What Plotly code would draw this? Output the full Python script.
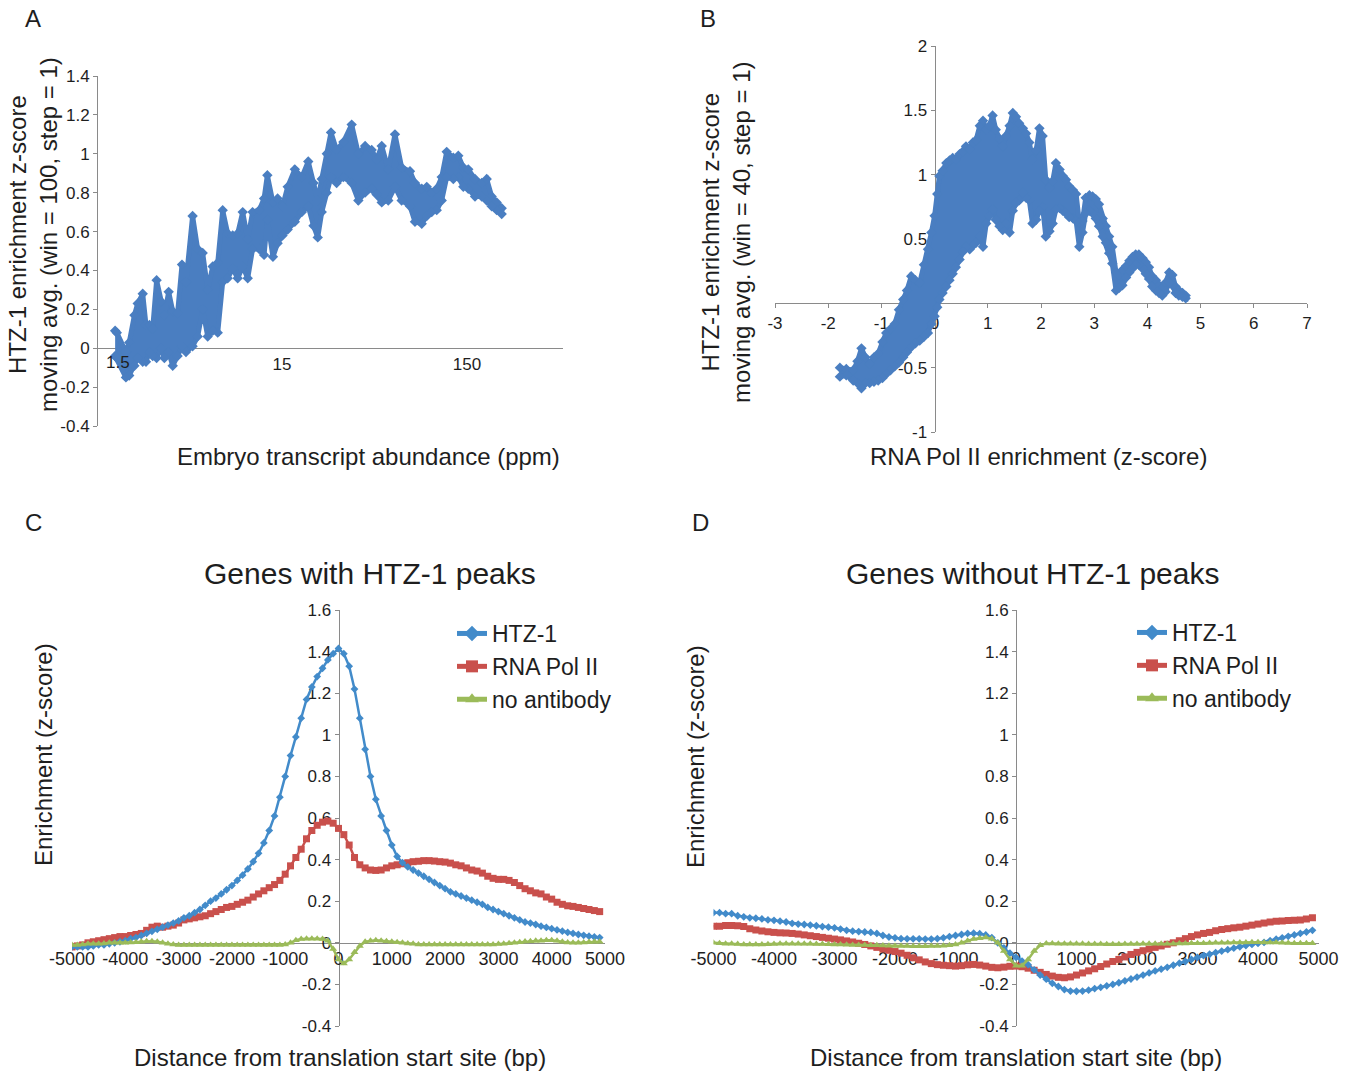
import math
import plotly.graph_objects as go

# ---------------- data ----------------
# Panel A: HTZ-1 z-score moving average vs embryo transcript abundance (ppm), band upper/lower envelope
A_PPM = [1.88, 1.92, 2.15, 2.24, 2.39, 2.49, 2.65, 2.76, 2.88, 3.00,
         3.15, 3.33, 3.47, 3.66, 3.85, 4.09, 4.32, 4.54, 4.93, 5.25,
         5.59, 5.95, 6.33, 6.74, 7.17, 7.63, 8.12, 8.64, 9.20, 9.79,
         10.4, 11.3, 12.0, 12.5, 13.4, 14.2, 15.1, 16.1, 17.6, 19.2,
         20.8, 22.2, 23.4, 24.6, 26.2, 27.6, 29.6, 32.2, 35.7, 38.8,
         42.2, 45.8, 48.7, 51.9, 56.3, 61.2, 66.5, 73.8, 78.5, 85.4,
         90.9, 96.7, 102.9, 109.5, 116.5, 126.5, 134.6, 143.3, 152.4, 165.7,
         180.2, 191.7, 204.0, 217.1, 231.0]
A_HI = [0.09, 0.08, -0.02, 0.03, 0.17, 0.23, 0.28, 0.12, 0.12, 0.10,
        0.35, 0.24, 0.17, 0.29, 0.19, 0.18, 0.43, 0.34, 0.68, 0.51,
        0.49, 0.30, 0.42, 0.44, 0.71, 0.59, 0.58, 0.59, 0.70, 0.56,
        0.70, 0.71, 0.77, 0.89, 0.75, 0.77, 0.73, 0.83, 0.92, 0.88,
        0.96, 0.85, 0.76, 0.87, 1.00, 1.11, 1.02, 1.06, 1.15, 1.00,
        1.04, 1.02, 0.97, 1.04, 0.92, 1.10, 0.93, 0.91, 0.85, 0.82,
        0.83, 0.80, 0.82, 0.88, 1.01, 0.98, 0.99, 0.93, 0.92, 0.87,
        0.85, 0.87, 0.78, 0.75, 0.72]
A_LO = [-0.04, -0.05, -0.15, -0.14, -0.09, -0.05, -0.07, -0.07, -0.02, -0.04,
        -0.05, 0.00, -0.05, -0.02, -0.09, -0.04, 0.01, -0.02, 0.01, 0.06,
        0.20, 0.06, 0.09, 0.08, 0.34, 0.36, 0.41, 0.36, 0.42, 0.36,
        0.51, 0.51, 0.48, 0.66, 0.47, 0.54, 0.58, 0.61, 0.65, 0.70,
        0.73, 0.63, 0.57, 0.70, 0.80, 0.88, 0.85, 0.88, 0.85, 0.76,
        0.80, 0.82, 0.79, 0.75, 0.76, 0.83, 0.76, 0.73, 0.65, 0.64,
        0.68, 0.70, 0.71, 0.76, 0.88, 0.87, 0.88, 0.83, 0.82, 0.78,
        0.78, 0.76, 0.73, 0.71, 0.69]

# Panel B: HTZ-1 z-score moving average vs RNA Pol II enrichment, band upper/lower envelope
B_POL2 = [-1.78, -1.66, -1.53, -1.45, -1.375, -1.30, -1.22, -1.14, -1.06, -0.98,
          -0.91, -0.83, -0.75, -0.67, -0.59, -0.52, -0.44, -0.36, -0.28, -0.20,
          -0.125, -0.06, 0.0, 0.05, 0.09, 0.15, 0.22, 0.28, 0.34, 0.40,
          0.47, 0.53, 0.59, 0.66, 0.72, 0.78, 0.85, 0.91, 0.97, 1.03,
          1.09, 1.15, 1.22, 1.28, 1.34, 1.41, 1.47, 1.53, 1.59, 1.66,
          1.72, 1.78, 1.84, 1.91, 1.97, 2.03, 2.09, 2.16, 2.22, 2.28,
          2.35, 2.41, 2.47, 2.53, 2.60, 2.66, 2.72, 2.78, 2.84, 2.91,
          2.97, 3.03, 3.09, 3.16, 3.22, 3.28, 3.34, 3.41, 3.47, 3.53,
          3.60, 3.66, 3.72, 3.78, 3.84, 3.91, 3.97, 4.03, 4.09, 4.16,
          4.22, 4.28, 4.34, 4.41, 4.47, 4.53, 4.59, 4.66, 4.72]
B_HI = [-0.50, -0.51, -0.52, -0.45, -0.35, -0.42, -0.47, -0.42, -0.39, -0.30,
        -0.23, -0.20, -0.16, -0.05, 0.03, 0.10, 0.21, 0.18, 0.16, 0.30,
        0.42, 0.55, 0.68, 0.85, 0.99, 1.03, 1.09, 1.11, 1.13, 1.12,
        1.16, 1.18, 1.22, 1.20, 1.25, 1.27, 1.38, 1.42, 1.35, 1.38,
        1.46, 1.35, 1.28, 1.22, 1.30, 1.38, 1.48, 1.45, 1.40, 1.36,
        1.32, 1.25, 1.12, 1.19, 1.36, 1.30, 0.96, 0.90, 0.95, 1.09,
        1.04, 0.99, 0.96, 0.91, 0.88, 0.85, 0.63, 0.64, 0.82, 0.84,
        0.83, 0.81, 0.77, 0.66, 0.60, 0.52, 0.44, 0.24, 0.22, 0.26,
        0.29, 0.33, 0.36, 0.38, 0.38, 0.35, 0.32, 0.28, 0.21, 0.18,
        0.14, 0.12, 0.16, 0.24, 0.22, 0.13, 0.10, 0.08, 0.06]
B_LO = [-0.57, -0.56, -0.60, -0.62, -0.66, -0.62, -0.62, -0.61, -0.60, -0.58,
        -0.55, -0.52, -0.49, -0.46, -0.42, -0.38, -0.34, -0.31, -0.29, -0.26,
        -0.23, -0.16, -0.10, -0.03, 0.03, 0.08, 0.13, 0.18, 0.23, 0.28,
        0.34, 0.40, 0.44, 0.42, 0.45, 0.47, 0.52, 0.44, 0.62, 0.68,
        0.73, 0.65, 0.60, 0.57, 0.62, 0.55, 0.72, 0.78, 0.80, 0.86,
        0.82, 0.80, 0.62, 0.65, 0.72, 0.75, 0.52, 0.56, 0.62, 0.73,
        0.74, 0.72, 0.70, 0.67, 0.66, 0.64, 0.44, 0.55, 0.70, 0.72,
        0.70, 0.66, 0.60, 0.52, 0.47, 0.39, 0.31, 0.10, 0.12, 0.14,
        0.20, 0.24, 0.27, 0.30, 0.30, 0.27, 0.23, 0.19, 0.13, 0.10,
        0.08, 0.06, 0.09, 0.16, 0.14, 0.08, 0.06, 0.05, 0.04]

# Panels C and D: distance from translation start site (bp)
DIST_BP = list(range(-5000, 5000, 100))

C_HTZ1 = [-0.02, -0.02, -0.02, -0.02, -0.015, -0.01, -0.01, -0.005, 0.0, 0.005,
          0.01, 0.02, 0.025, 0.035, 0.045, 0.055, 0.065, 0.075, 0.085, 0.095,
          0.105, 0.12, 0.13, 0.145, 0.16, 0.18, 0.20, 0.215, 0.235, 0.255,
          0.275, 0.30, 0.325, 0.355, 0.39, 0.43, 0.48, 0.54, 0.61, 0.70,
          0.80, 0.90, 0.99, 1.08, 1.17, 1.23, 1.28, 1.32, 1.36, 1.39,
          1.415, 1.39, 1.33, 1.22, 1.08, 0.93, 0.80, 0.69, 0.61, 0.54,
          0.47, 0.415, 0.385, 0.365, 0.35, 0.335, 0.32, 0.305, 0.29, 0.275,
          0.26, 0.245, 0.235, 0.225, 0.215, 0.205, 0.195, 0.185, 0.17, 0.16,
          0.15, 0.14, 0.13, 0.12, 0.11, 0.10, 0.095, 0.088, 0.08, 0.074,
          0.068, 0.062, 0.056, 0.05, 0.045, 0.04, 0.036, 0.032, 0.028, 0.025]
C_POL2 = [-0.02, -0.015, -0.01, 0.0, 0.005, 0.01, 0.015, 0.02, 0.025, 0.03,
          0.03, 0.035, 0.04, 0.045, 0.06, 0.075, 0.08, 0.075, 0.08, 0.085,
          0.095, 0.11, 0.115, 0.12, 0.125, 0.13, 0.14, 0.15, 0.16, 0.17,
          0.175, 0.185, 0.195, 0.205, 0.22, 0.235, 0.25, 0.265, 0.28, 0.30,
          0.33, 0.37, 0.41, 0.45, 0.50, 0.54, 0.565, 0.58, 0.585, 0.575,
          0.55, 0.52, 0.47, 0.41, 0.375, 0.36, 0.35, 0.348, 0.35, 0.36,
          0.37, 0.375, 0.38, 0.385, 0.39, 0.392, 0.395, 0.395, 0.393, 0.39,
          0.388, 0.383, 0.375, 0.37, 0.36, 0.35, 0.345, 0.335, 0.32, 0.31,
          0.305, 0.305, 0.30, 0.29, 0.275, 0.26, 0.25, 0.24, 0.235, 0.22,
          0.21, 0.195, 0.185, 0.178, 0.175, 0.17, 0.165, 0.16, 0.155, 0.15]
C_NOAB = [-0.01, -0.01, -0.008, -0.005, -0.005, -0.005, -0.003, 0.0, 0.0, 0.0,
          0.0, 0.002, 0.003, 0.005, 0.008, 0.008, 0.005, 0.0, -0.005, -0.008,
          -0.01, -0.01, -0.01, -0.01, -0.01, -0.01, -0.01, -0.01, -0.01, -0.01,
          -0.01, -0.01, -0.01, -0.01, -0.01, -0.01, -0.01, -0.01, -0.01, -0.01,
          -0.008, 0.0, 0.012, 0.018, 0.02, 0.02, 0.02, 0.018, 0.01, -0.03,
          -0.08, -0.10, -0.08, -0.045, -0.015, 0.005, 0.01, 0.012, 0.01, 0.008,
          0.005, 0.003, 0.0, -0.003, -0.005, -0.008, -0.008, -0.008, -0.008, -0.008,
          -0.008, -0.008, -0.008, -0.008, -0.008, -0.008, -0.008, -0.008, -0.008, -0.008,
          -0.006, -0.004, -0.002, 0.0, 0.003, 0.006, 0.008, 0.01, 0.01, 0.012,
          0.012, 0.01, 0.005, 0.002, 0.0, 0.0, 0.002, 0.004, 0.005, 0.005]

D_HTZ1 = [0.145, 0.145, 0.14, 0.14, 0.13, 0.125, 0.12, 0.118, 0.115, 0.11,
          0.108, 0.104, 0.10, 0.093, 0.09, 0.088, 0.085, 0.082, 0.078, 0.075,
          0.072, 0.066, 0.06, 0.056, 0.054, 0.052, 0.05, 0.045, 0.035, 0.028,
          0.024, 0.02, 0.019, 0.019, 0.019, 0.018, 0.018, 0.02, 0.024, 0.03,
          0.035, 0.04, 0.045, 0.046, 0.044, 0.038, 0.025, 0.0, -0.025, -0.05,
          -0.07, -0.088, -0.105, -0.13, -0.155, -0.175, -0.195, -0.21, -0.225, -0.232,
          -0.233, -0.232, -0.228, -0.22, -0.214, -0.207, -0.2, -0.192, -0.183, -0.174,
          -0.165, -0.155, -0.145, -0.135, -0.127, -0.118, -0.108, -0.098, -0.09, -0.08,
          -0.07, -0.062, -0.055, -0.047, -0.04, -0.033, -0.026, -0.019, -0.013, -0.008,
          -0.003, 0.002, 0.01, 0.017, 0.024, 0.031, 0.038, 0.045, 0.052, 0.06]
D_POL2 = [0.08, 0.08, 0.083, 0.083, 0.082, 0.078, 0.068, 0.062, 0.057, 0.053,
          0.05, 0.048, 0.047, 0.045, 0.042, 0.038, 0.034, 0.03, 0.026, 0.022,
          0.018, 0.014, 0.009, 0.004, -0.002, -0.008, -0.015, -0.022, -0.03, -0.036,
          -0.042, -0.05, -0.06, -0.072, -0.082, -0.092, -0.1, -0.105, -0.108, -0.11,
          -0.112, -0.11, -0.106, -0.104, -0.107, -0.112, -0.118, -0.12, -0.117, -0.113,
          -0.112, -0.115, -0.122, -0.132, -0.142, -0.152, -0.16, -0.166, -0.168, -0.164,
          -0.155, -0.145, -0.135, -0.125, -0.114, -0.102, -0.09, -0.08, -0.068, -0.056,
          -0.046, -0.038, -0.03, -0.022, -0.015, -0.007, 0.0, 0.01, 0.02, 0.03,
          0.038, 0.045, 0.05, 0.058, 0.064, 0.068, 0.072, 0.075, 0.08, 0.085,
          0.09, 0.095, 0.1, 0.104, 0.105, 0.107, 0.108, 0.11, 0.115, 0.12]
D_NOAB = [0.0, -0.002, -0.004, -0.005, -0.006, -0.008, -0.008, -0.008, -0.008, -0.007,
          -0.006, -0.005, -0.004, -0.004, -0.004, -0.005, -0.005, -0.006, -0.006, -0.007,
          -0.008, -0.008, -0.009, -0.01, -0.01, -0.011, -0.012, -0.012, -0.013, -0.014,
          -0.015, -0.015, -0.015, -0.016, -0.016, -0.016, -0.015, -0.015, -0.014, -0.012,
          -0.008, 0.0, 0.01, 0.018, 0.022, 0.025, 0.02, 0.0, -0.04, -0.08,
          -0.11, -0.11, -0.08, -0.04, -0.012, -0.003, -0.003, -0.004, -0.005, -0.005,
          -0.005, -0.005, -0.006, -0.006, -0.006, -0.007, -0.007, -0.007, -0.006, -0.006,
          -0.006, -0.005, -0.005, -0.005, -0.004, -0.004, -0.004, -0.003, -0.003, -0.002,
          -0.002, -0.002, -0.001, 0.0, 0.0, 0.0, 0.001, 0.002, 0.002, 0.003,
          0.003, 0.002, 0.002, 0.001, 0.0, -0.001, -0.002, -0.002, -0.002, -0.002]

SERIES_NAMES = ["HTZ-1", "RNA Pol II", "no antibody"]

# tick labels
A_XTICKS = [1.5, 15, 150]
A_XTEXT = ["1.5", "15", "150"]
A_YTICKS = [-0.4, -0.2, 0, 0.2, 0.4, 0.6, 0.8, 1.0, 1.2, 1.4]
A_YTEXT = ["-0.4", "-0.2", "0", "0.2", "0.4", "0.6", "0.8", "1", "1.2", "1.4"]
B_XTICKS = [-3, -2, -1, 0, 1, 2, 3, 4, 5, 6, 7]
B_XTEXT = ["-3", "-2", "-1", "0", "1", "2", "3", "4", "5", "6", "7"]
B_YTICKS = [-1, -0.5, 0, 0.5, 1, 1.5, 2]
B_YTEXT = ["-1", "-0.5", "0", "0.5", "1", "1.5", "2"]
CD_XTICKS = [-5000, -4000, -3000, -2000, -1000, 0, 1000, 2000, 3000, 4000, 5000]
CD_XTEXT = ["-5000", "-4000", "-3000", "-2000", "-1000", "0", "1000", "2000", "3000", "4000", "5000"]
CD_YTICKS = [-0.4, -0.2, 0, 0.2, 0.4, 0.6, 0.8, 1.0, 1.2, 1.4, 1.6]
CD_YTEXT = ["-0.4", "-0.2", "0", "0.2", "0.4", "0.6", "0.8", "1", "1.2", "1.4", "1.6"]

for arr in (C_HTZ1, C_POL2, C_NOAB, D_HTZ1, D_POL2, D_NOAB):
    assert len(arr) == len(DIST_BP), len(arr)
assert len(A_PPM) == len(A_HI) == len(A_LO)
assert len(B_POL2) == len(B_HI) == len(B_LO)

# ---------------- styling ----------------
W, H = 1352, 1071
FONT = "Liberation Sans, Arial, Helvetica, sans-serif"
TEXT = "#1e1e1e"
AX = "#8a8a8a"
BAND_BLUE = "#4A7EC1"
BLUE = "#428BCA"
RED = "#C9504C"
GREEN = "#9BBB59"


def fx(px):
    return px / W


def fy(py):
    return 1 - py / H


def ax(**kw):
    d = dict(showline=True, linecolor=AX, linewidth=1, showgrid=False, zeroline=False,
             ticks="outside", ticklen=4, tickwidth=1, tickcolor=AX, layer="below traces",
             tickfont=dict(size=17, color=TEXT, family=FONT), fixedrange=True,
             automargin=False)
    d.update(kw)
    return d


fig = go.Figure()

# Panel A band
fig.add_trace(go.Scatter(
    x=A_PPM + A_PPM[::-1], y=A_HI + A_LO[::-1], xaxis="x", yaxis="y",
    mode="lines+markers", fill="toself", fillcolor=BAND_BLUE,
    line=dict(color=BAND_BLUE, width=5),
    marker=dict(symbol="diamond", size=8, color=BAND_BLUE),
    showlegend=False, hoverinfo="skip"))

# Panel B band
fig.add_trace(go.Scatter(
    x=B_POL2 + B_POL2[::-1], y=B_HI + B_LO[::-1], xaxis="x2", yaxis="y2",
    mode="lines+markers", fill="toself", fillcolor=BAND_BLUE,
    line=dict(color=BAND_BLUE, width=5),
    marker=dict(symbol="diamond", size=8, color=BAND_BLUE),
    showlegend=False, hoverinfo="skip"))

styles = [
    dict(color=BLUE, symbol="diamond", size=6, width=2.5),
    dict(color=RED, symbol="square", size=7, width=2.5),
    dict(color=GREEN, symbol="triangle-up", size=7, width=2.5),
]

for panel, (xa, ya, leg, series) in enumerate([
        ("x3", "y3", "legend", (C_HTZ1, C_POL2, C_NOAB)),
        ("x4", "y4", "legend2", (D_HTZ1, D_POL2, D_NOAB))]):
    for idx in (1, 0, 2):
        st = styles[idx]
        fig.add_trace(go.Scatter(
            x=DIST_BP, y=series[idx], xaxis=xa, yaxis=ya, name=SERIES_NAMES[idx],
            mode="lines+markers", legend=leg, legendrank=idx + 1,
            line=dict(color=st["color"], width=st["width"]),
            marker=dict(symbol=st["symbol"], size=st["size"], color=st["color"]),
            hoverinfo="skip"))

# axes geometry (pixels)
A_L, A_R, A_T, A_B = 97, 563, 76, 426
B_L, B_R, B_T, B_B = 775, 1307, 46, 432
C_L, C_R = 72, 605
D_L, D_R = 713.5, 1318.5
CD_T, CD_B = 610, 1026

a_zero_py = A_B - (0 - (-0.4)) / 1.8 * (A_B - A_T)
b_zero_py = B_B - (0 - (-1)) / 3.0 * (B_B - B_T)
b_zero_px = B_L + (0 - (-3)) / 10.0 * (B_R - B_L)
cd_zero_py = CD_B - 0.4 / 2.0 * (CD_B - CD_T)
c_zero_px = C_L + 0.5 * (C_R - C_L)
d_zero_px = D_L + 0.5 * (D_R - D_L)

legend_common = dict(xanchor="left", yanchor="top", itemsizing="constant",
                     font=dict(size=23, color=TEXT, family=FONT), bgcolor="rgba(0,0,0,0)",
                     traceorder="normal")

layout = dict(
    width=W, height=H, margin=dict(l=0, r=0, t=0, b=0, pad=0, autoexpand=False),
    paper_bgcolor="white", plot_bgcolor="rgba(0,0,0,0)",
    font=dict(family=FONT, color=TEXT, size=17),
    xaxis=ax(domain=[fx(A_L), fx(A_R)], type="log",
             range=[math.log10(1.5), math.log10(1.5) + (A_R - A_L) / 185.0],
             anchor="free", position=fy(a_zero_py), ticks="",
             tickvals=A_XTICKS, ticktext=[""] + A_XTEXT[1:]),
    yaxis=ax(domain=[fy(A_B), fy(A_T)], range=[-0.4, 1.4], anchor="free", position=fx(A_L),
             tickvals=A_YTICKS, ticktext=A_YTEXT),
    xaxis2=ax(domain=[fx(B_L), fx(B_R)], range=[-3, 7], anchor="free", position=fy(b_zero_py),
              tickvals=B_XTICKS, ticktext=B_XTEXT),
    yaxis2=ax(domain=[fy(B_B), fy(B_T)], range=[-1, 2], anchor="free", position=fx(b_zero_px),
              tickvals=B_YTICKS, ticktext=B_YTEXT),
    xaxis3=ax(domain=[fx(C_L), fx(C_R)], range=[-5000, 5000], anchor="free", position=fy(cd_zero_py),
              ticks="", tickvals=CD_XTICKS, ticktext=CD_XTEXT, tickfont=dict(size=18, color=TEXT, family=FONT)),
    yaxis3=ax(domain=[fy(CD_B), fy(CD_T)], range=[-0.4, 1.6], anchor="free", position=fx(c_zero_px),
              tickvals=CD_YTICKS, ticktext=CD_YTEXT),
    xaxis4=ax(domain=[fx(D_L), fx(D_R)], range=[-5000, 5000], anchor="free", position=fy(cd_zero_py),
              ticks="", tickvals=CD_XTICKS, ticktext=CD_XTEXT, tickfont=dict(size=18, color=TEXT, family=FONT)),
    yaxis4=ax(domain=[fy(CD_B), fy(CD_T)], range=[-0.4, 1.6], anchor="free", position=fx(d_zero_px),
              tickvals=CD_YTICKS, ticktext=CD_YTEXT),
    legend=dict(x=fx(452), y=fy(612), **legend_common),
    legend2=dict(x=fx(1132), y=fy(611), **legend_common),
)
fig.update_layout(**layout)


def note(text, px, py, size=24, angle=0, xanchor="center"):
    fig.add_annotation(text=text, x=fx(px), y=fy(py), xref="paper", yref="paper",
                       showarrow=False, textangle=angle, xanchor=xanchor, yanchor="middle",
                       font=dict(size=size, color=TEXT, family=FONT))


# first x tick label of panel A sits just right of the y axis, as in the reference
note(A_XTEXT[0], 118, 362, size=17)

# panel letters
note("A", 33, 18)
note("B", 708, 18)
note("C", 33, 522)
note("D", 700, 522)

# axis titles
note("HTZ-1 enrichment z-score<br>moving avg. (win = 100, step = 1)", 33, 235, angle=-90)
note("Embryo transcript abundance (ppm)", 368, 456)
note("HTZ-1 enrichment z-score<br>moving avg. (win = 40, step = 1)", 726, 232, angle=-90)
note("RNA Pol II enrichment (z-score)", 1038, 456)

note("Genes with HTZ-1 peaks", 370, 573, size=30)
note("Genes without HTZ-1 peaks", 1033, 573, size=30)
note("Enrichment (z-score)", 43, 755, angle=-90)
note("Enrichment (z-score)", 695, 757, angle=-90)
note("Distance from translation start site (bp)", 340, 1057)
note("Distance from translation start site (bp)", 1016, 1057)

fig.write_html("out.html", config={"displayModeBar": False},
               post_script="document.body.style.margin='0';document.body.style.overflow='hidden';")
